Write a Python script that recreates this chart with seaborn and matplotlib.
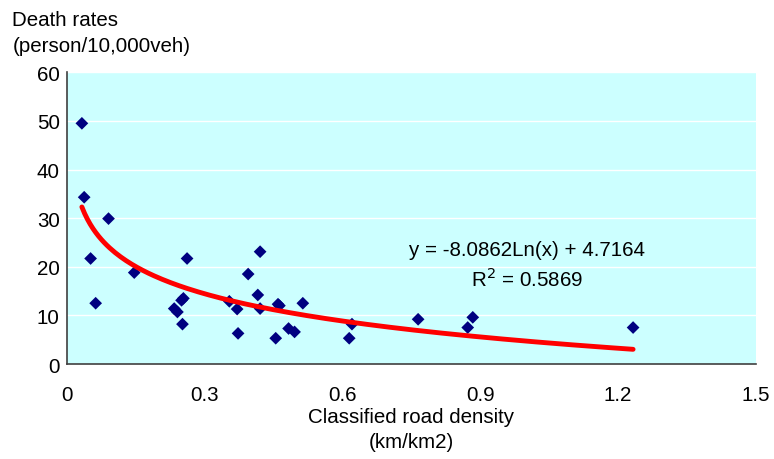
import numpy as np
import pandas as pd
import seaborn as sns
import matplotlib.pyplot as plt

# road density (km/km2) vs death rates (person/10,000veh)
road_density = [0.033, 0.038, 0.052, 0.063, 0.091, 0.147, 0.234, 0.241, 0.252,
                0.250, 0.254, 0.262, 0.354, 0.371, 0.373, 0.395, 0.416, 0.421,
                0.421, 0.455, 0.460, 0.463, 0.483, 0.496, 0.514, 0.615, 0.621,
                0.765, 0.873, 0.884, 1.233]
death_rate = [49.5, 34.3, 21.7, 12.5, 29.9, 18.8, 11.4, 10.7, 8.2,
              13.1, 13.5, 21.7, 12.9, 11.3, 6.3, 18.5, 14.2, 11.4,
              23.1, 5.3, 12.3, 12.0, 7.3, 6.6, 12.5, 5.3, 8.2,
              9.2, 7.5, 9.6, 7.5]

# log trendline as printed on the chart
slope = -8.0862
intercept = 4.7164
r_squared = 0.5869

df = pd.DataFrame({'density': road_density, 'rate': death_rate})

trend_x = np.linspace(min(road_density), max(road_density), 200)
trend = pd.DataFrame({'density': trend_x,
                      'rate': slope * np.log(trend_x) + intercept})

sns.set_style('white')
plt.rcParams['font.family'] = ['Liberation Sans', 'DejaVu Sans']
plt.rcParams['text.color'] = 'black'

fig = plt.figure(figsize=(7.74, 4.60), dpi=100)
ax = fig.add_axes([0.0862, 0.2065, 0.8902, 0.6342])
ax.set_facecolor('#CCFFFF')

sns.scatterplot(data=df, x='density', y='rate', marker='D', s=42,
                color='#000080', edgecolor='none', ax=ax, zorder=3)
sns.lineplot(data=trend, x='density', y='rate', color='#FF0000',
             linewidth=3.5, ax=ax, zorder=4)

ax.set_xlim(0, 1.5)
ax.set_ylim(0, 60)
ax.set_xticks([0, 0.3, 0.6, 0.9, 1.2, 1.5])
ax.set_xticklabels(['0', '0.3', '0.6', '0.9', '1.2', '1.5'])
ax.set_yticks(range(0, 61, 10))
ax.yaxis.grid(True, color='white', linewidth=1)
ax.xaxis.grid(False)
ax.set_axisbelow(True)

for side in ['top', 'right']:
    ax.spines[side].set_visible(False)
for side in ['left', 'bottom']:
    ax.spines[side].set_color('#404040')
    ax.spines[side].set_linewidth(1.2)

ax.tick_params(axis='both', direction='in', length=5, width=1,
               color='#404040', labelsize=14.8, labelcolor='black')
ax.tick_params(axis='x', pad=15)
ax.tick_params(axis='y', pad=5)

ax.set_xlabel('')
ax.set_ylabel('')
fig.text(0.531, 0.092, 'Classified road density', ha='center', va='center',
         fontsize=14.8, color='black')
fig.text(0.531, 0.037, '(km/km2)', ha='center', va='center', fontsize=14.8,
         color='black')
fig.text(0.016, 0.955, 'Death rates', ha='left', va='center', fontsize=14.8,
         color='black')
fig.text(0.016, 0.898, '(person/10,000veh)', ha='left', va='center',
         fontsize=14.8, color='black')

ax.text(1.003, 23.6, f'y = {slope}Ln(x) + {intercept}', ha='center',
        va='center', fontsize=14.8, color='black')
ax.text(1.003, 17.6, f'R$^2$ = {r_squared}', ha='center', va='center',
        fontsize=14.8, color='black')

fig.savefig('out.png', dpi=100)
